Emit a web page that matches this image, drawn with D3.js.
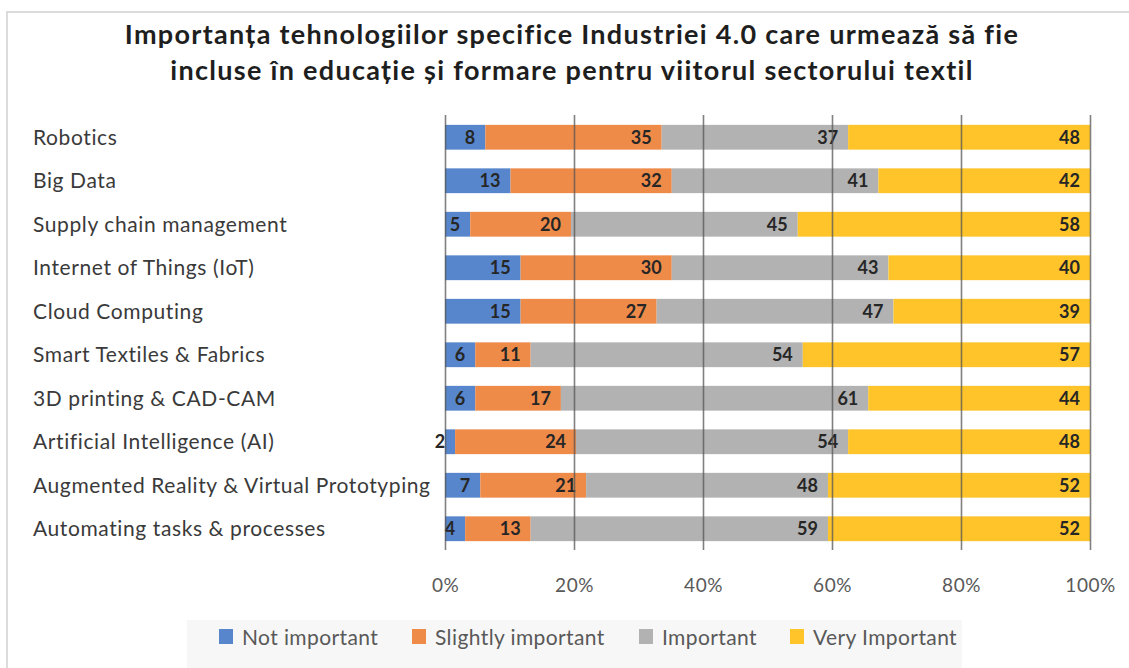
<!DOCTYPE html>
<html>
<head>
<meta charset="utf-8">
<script src="https://cdn.jsdelivr.net/npm/d3@7"></script>
<style>
  html, body { margin: 0; padding: 0; background: #ffffff; }
  svg { display: block; }
</style>
</head>
<body>
<svg id="chart" width="1129" height="668"></svg>
<script>
// Survey results: number of respondents per importance level for each technology
const categories = [
  "Robotics",
  "Big Data",
  "Supply chain management",
  "Internet of Things (IoT)",
  "Cloud Computing",
  "Smart Textiles & Fabrics",
  "3D printing & CAD-CAM",
  "Artificial Intelligence (AI)",
  "Augmented Reality & Virtual Prototyping",
  "Automating tasks & processes"
];
const notImportant      = [8, 13, 5, 15, 15, 6, 6, 2, 7, 4];
const slightlyImportant = [35, 32, 20, 30, 27, 11, 17, 24, 21, 13];
const important         = [37, 41, 45, 43, 47, 54, 61, 54, 48, 59];
const veryImportant     = [48, 42, 58, 40, 39, 57, 44, 48, 52, 52];

const seriesNames = ["Not important", "Slightly important", "Important", "Very Important"];
const tickValues = [0, 0.2, 0.4, 0.6, 0.8, 1.0];

const titleLines = [
  "Importanța tehnologiilor specifice Industriei 4.0 care urmează să fie",
  "incluse în educație și formare pentru viitorul sectorului textil"
];

const colors = ["#5886cc", "#ef8b49", "#b2b2b2", "#fec42a"];
const FONT = "Lato, 'Open Sans', sans-serif";

const svg = d3.select("#chart");

// Chart frame
svg.append("rect")
  .attr("x", 7).attr("y", 12)
  .attr("width", 1140).attr("height", 700)
  .attr("fill", "#ffffff")
  .attr("stroke", "#dcdcdc")
  .attr("stroke-width", 2);

// Build per-category rows and stack them as shares of the row total
const keys = ["n", "s", "i", "v"];
const rows = categories.map((c, k) => ({
  cat: c,
  n: notImportant[k], s: slightlyImportant[k], i: important[k], v: veryImportant[k]
}));

const stack = d3.stack().keys(keys).offset(d3.stackOffsetExpand);
const stacked = stack(rows);

const x = d3.scaleLinear().domain([0, 1]).range([445, 1090]);
const y = d3.scaleBand().domain(categories).range([115.5, 550.5]).paddingInner(0.43).paddingOuter(0.215);

// Title
const title = svg.append("g");
titleLines.forEach((t, k) => {
  title.append("text")
    .attr("x", 572)
    .attr("y", 44 + k * 36)
    .attr("text-anchor", "middle")
    .attr("font-family", FONT)
    .attr("font-weight", 700)
    .attr("font-size", 27)
    .attr("letter-spacing", 1.3)
    .attr("fill", "#1e1e1e")
    .text(t);
});

// Bars
const layers = svg.append("g").selectAll("g")
  .data(stacked)
  .join("g")
  .attr("fill", (d, k) => colors[k]);

layers.selectAll("rect")
  .data(d => d)
  .join("rect")
  .attr("x", d => x(d[0]))
  .attr("y", d => y(d.data.cat))
  .attr("width", d => x(d[1]) - x(d[0]))
  .attr("height", y.bandwidth());

// Vertical gridlines drawn across the bars
const xAxis = d3.axisBottom(x)
  .tickValues(tickValues)
  .tickSize(-(550 - 115))
  .tickFormat(d3.format(".0%"));

const gx = svg.append("g")
  .attr("transform", "translate(0,550)")
  .call(xAxis);
gx.select(".domain").remove();
gx.selectAll(".tick line")
  .attr("stroke", "#555555")
  .attr("stroke-opacity", 0.75)
  .attr("stroke-width", 1.6);
gx.selectAll(".tick text")
  .attr("y", 29)
  .attr("font-family", FONT)
  .attr("font-size", 19)
  .attr("letter-spacing", 0.5)
  .attr("fill", "#595959");

// Value labels at the inner end of each segment
layers.selectAll("text")
  .data(d => d.map(p => ({ p, key: d.key })))
  .join("text")
  .attr("x", e => x(e.p[1]) - 10)
  .attr("y", e => y(e.p.data.cat) + y.bandwidth() / 2)
  .attr("dy", "0.36em")
  .attr("text-anchor", "end")
  .attr("font-family", FONT)
  .attr("font-weight", 700)
  .attr("font-size", 18)
  .attr("fill", "#262626")
  .text(e => e.p.data[e.key]);

// Category labels
svg.append("g").selectAll("text")
  .data(categories)
  .join("text")
  .attr("x", 33)
  .attr("y", d => y(d) + y.bandwidth() / 2)
  .attr("dy", "0.36em")
  .attr("font-family", FONT)
  .attr("font-size", 21)
  .attr("letter-spacing", 0.6)
  .attr("fill", "#3a3a3a")
  .text(d => d);

// Legend
const legend = svg.append("g");
legend.append("rect")
  .attr("x", 187).attr("y", 620)
  .attr("width", 775).attr("height", 60)
  .attr("fill", "#f7f7f7");

const legendX = [217, 410, 637, 788];
seriesNames.forEach((name, k) => {
  const g = legend.append("g").attr("transform", `translate(${legendX[k]},0)`);
  g.append("rect")
    .attr("x", 2).attr("y", 629)
    .attr("width", 14).attr("height", 15)
    .attr("fill", colors[k]);
  g.append("text")
    .attr("x", 25)
    .attr("y", 637)
    .attr("dy", "0.36em")
    .attr("font-family", FONT)
    .attr("font-size", 21)
    .attr("letter-spacing", 0.4)
    .attr("fill", "#595959")
    .text(name);
});
</script>
</body>
</html>
